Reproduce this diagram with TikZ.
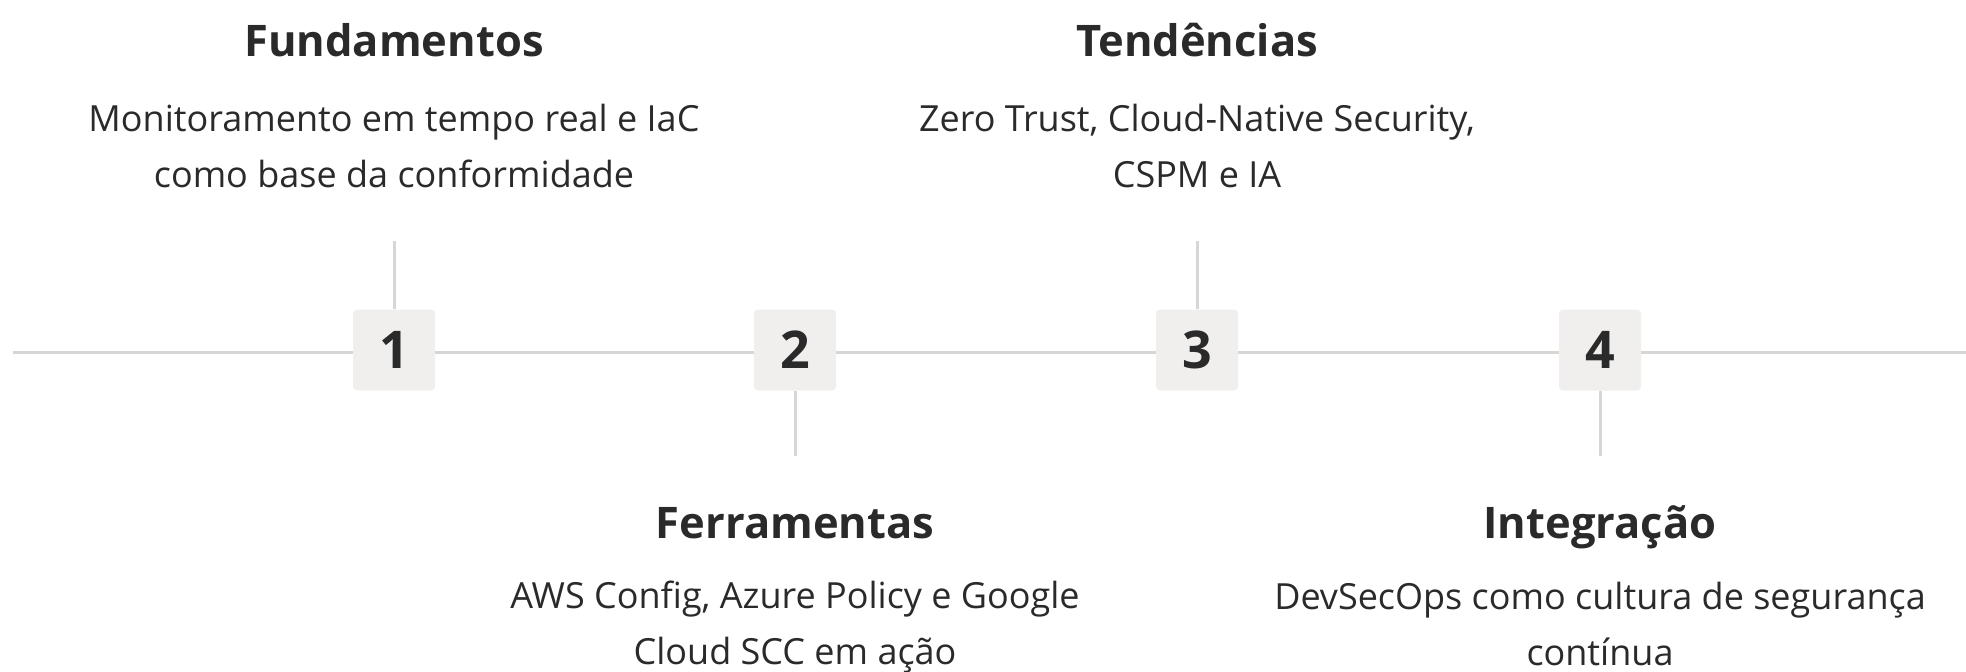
\documentclass[tikz,border=0pt]{standalone}
\usepackage{fontspec}
\setmainfont{Open Sans}
\definecolor{txt}{HTML}{2A2A2A}
\definecolor{ln}{HTML}{D8D5D5}
\definecolor{bx}{HTML}{F1EFEE}
\begin{document}
\begin{tikzpicture}[x=1pt,y=-1pt,
  numbox/.style={fill=bx,rounded corners=4pt,minimum width=82pt,minimum height=81pt,inner sep=0pt,
    font=\fontsize{52}{52}\selectfont\bfseries,text=txt},
  ttl/.style={font=\fontsize{43.5}{44}\selectfont\bfseries,text=txt,inner sep=0pt},
  dsc/.style={font=\fontsize{36}{56}\selectfont,text=txt,align=center,inner sep=0pt},
  conn/.style={draw=ln,line width=3pt}]
\useasboundingbox (0,0) rectangle (1966,672);
\coordinate (L) at (13,352);
\coordinate (R) at (1966,352);
\node[numbox] (b1) at (394,350) {1};
\node[numbox] (b2) at (795,350) {2};
\node[numbox] (b3) at (1197,350) {3};
\node[numbox] (b4) at (1600,350) {4};
\coordinate (t1) at (394,241);
\coordinate (t3) at (1197,241);
\coordinate (u2) at (795,456);
\coordinate (u4) at (1600,456);
\draw[conn] (L) -- (L -| b1.west);
\draw[conn] (L -| b1.east) -- (L -| b2.west);
\draw[conn] (L -| b2.east) -- (L -| b3.west);
\draw[conn] (L -| b3.east) -- (L -| b4.west);
\draw[conn] (L -| b4.east) -- (R);
\draw[conn] (t1) -- (b1.north);
\draw[conn] (t3) -- (b3.north);
\draw[conn] (b2.south) -- (u2);
\draw[conn] (b4.south) -- (u4);
\node[ttl,anchor=base] (h1) at (394,56) {Fundamentos};
\node[dsc,anchor=center] (d1) at (394,146) {Monitoramento em tempo real e IaC\\como base da conformidade};
\node[ttl,anchor=base] (h3) at (1197,56) {Tendências};
\node[dsc,anchor=center] (d3) at (1197,146) {Zero Trust, Cloud-Native Security,\\CSPM e IA};
\node[ttl,anchor=base] (h2) at (795,538) {Ferramentas};
\node[dsc,anchor=center] (d2) at (795,627) {AWS Config, Azure Policy e Google\\Cloud SCC em ação};
\node[ttl,anchor=base] (h4) at (1600,538) {Integração};
\node[dsc,anchor=center] (d4) at (1600,624) {DevSecOps como cultura de segurança\\contínua};
\end{tikzpicture}
\end{document}
